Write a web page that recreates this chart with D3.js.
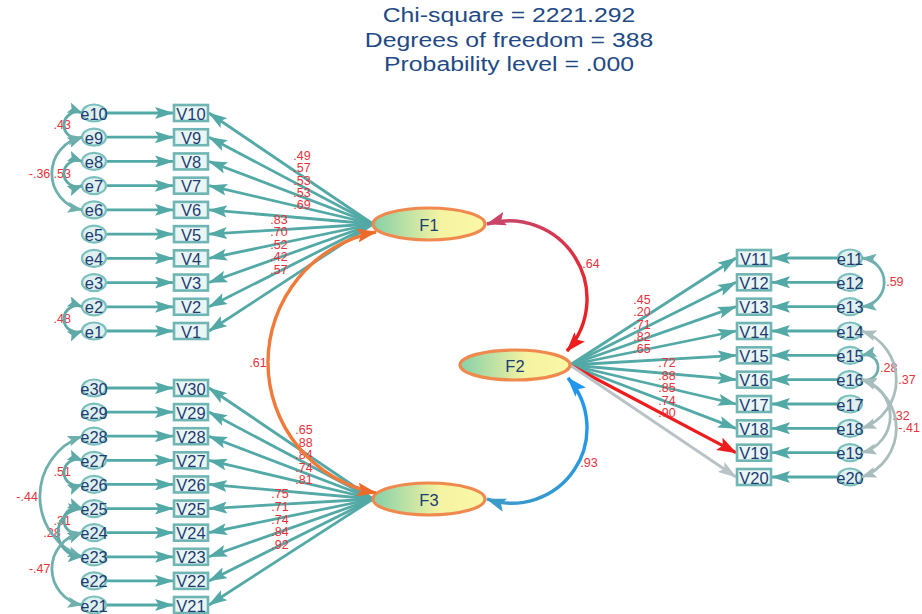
<!DOCTYPE html>
<html><head><meta charset="utf-8">
<script src="https://cdn.jsdelivr.net/npm/d3@7"></script>
<style>body{margin:0;background:#fff}svg{display:block}</style>
</head><body><svg id="c" width="922" height="614"></svg>
<script>
// ---------------- data ----------------
const titleLines = ["Chi-square = 2221.292", "Degrees of freedom = 388", "Probability level = .000"];
const factorNames = ["F1", "F2", "F3"];

const f1Vars = ["V10","V9","V8","V7","V6","V5","V4","V3","V2","V1"];
const f1Errs = ["e10","e9","e8","e7","e6","e5","e4","e3","e2","e1"];
const f1Loadings = [".49",".57",".53",".53",".69",".83",".70",".52",".42",".57"];

const f2Vars = ["V11","V12","V13","V14","V15","V16","V17","V18","V19","V20"];
const f2Errs = ["e11","e12","e13","e14","e15","e16","e17","e18","e19","e20"];
const f2Loadings = [".45",".20",".71",".82",".65",".72",".88",".85",".74",".90"];

const f3Vars = ["V30","V29","V28","V27","V26","V25","V24","V23","V22","V21"];
const f3Errs = ["e30","e29","e28","e27","e26","e25","e24","e23","e22","e21"];
const f3Loadings = [".65",".88",".84",".74",".81",".75",".71",".74",".84",".92"];

const factorCovFrom = ["F1", "F2", "F1"];
const factorCovTo   = ["F2", "F3", "F3"];
const factorCovVals = [".64", ".93", ".61"];

const errCovFrom = ["e10","e9","e8","e2","e28","e27","e25","e25","e24","e11","e14","e15","e16","e16"];
const errCovTo   = ["e9","e6","e7","e1","e23","e26","e24","e23","e21","e13","e18","e16","e19","e20"];
const errCovVals = [".43","-.36",".53",".48","-.44",".51",".31",".28","-.47",".59",".37",".28",".32","-.41"];

// ---------------- layout ----------------
const teal = "#52a9a6", navy = "#1d3d72", red = "#e8323c";
const FONT = "Liberation Sans, Arial, sans-serif";
const svg = d3.select("#c");
const defs = svg.append("defs");

const yF1 = d3.scalePoint().domain(f1Vars).range([113, 331]);
const yF3 = d3.scalePoint().domain(f3Vars).range([388, 605]);
const yF2 = d3.scalePoint().domain(f2Vars).range([258, 477]);

const fac = {
  F1: {cx: 429, cy: 224, rx: 56, ry: 16},
  F2: {cx: 515, cy: 365, rx: 55, ry: 15},
  F3: {cx: 429, cy: 499, rx: 56, ry: 16}
};
const leftBoxX = 174, rightBoxX = 737, boxW = 34, boxH = 16;
const leftErrX = 94, rightErrX = 850, errRx = 12, errRy = 8.5;

// markers
const markerIds = {};
function marker(color, len = 14, wid = 10) {
  const key = color + "_" + len + "_" + wid;
  if (!markerIds[key]) {
    const id = "m" + Object.keys(markerIds).length;
    markerIds[key] = id;
    defs.append("marker").attr("id", id)
      .attr("viewBox", "0 0 10 10").attr("refX", 9.5).attr("refY", 5)
      .attr("markerUnits", "userSpaceOnUse")
      .attr("markerWidth", len).attr("markerHeight", wid)
      .attr("preserveAspectRatio", "none")
      .attr("orient", "auto-start-reverse")
      .append("path").attr("d", "M0,0 L10,5 L0,10 L2,5 Z").attr("fill", color);
  }
  return "url(#" + markerIds[key] + ")";
}

function arcThrough(a, m, b) {
  const [ax, ay] = a, [bx, by] = m, [cx, cy] = b;
  const d = 2 * (ax * (by - cy) + bx * (cy - ay) + cx * (ay - by));
  const ux = ((ax*ax + ay*ay) * (by - cy) + (bx*bx + by*by) * (cy - ay) + (cx*cx + cy*cy) * (ay - by)) / d;
  const uy = ((ax*ax + ay*ay) * (cx - bx) + (bx*bx + by*by) * (ax - cx) + (cx*cx + cy*cy) * (bx - ax)) / d;
  const r = Math.hypot(ax - ux, ay - uy);
  const cross = (m[0] - a[0]) * (b[1] - m[1]) - (m[1] - a[1]) * (b[0] - m[0]);
  const sweep = cross > 0 ? 1 : 0;
  const side = p => (b[0] - a[0]) * (p[1] - a[1]) - (b[1] - a[1]) * (p[0] - a[0]);
  const large = side(m) * side([ux, uy]) > 0 ? 1 : 0;
  return `M${a[0]},${a[1]} A${r},${r} 0 ${large} ${sweep} ${b[0]},${b[1]}`;
}

// groups of indicators
const groups = [
  {f: "F1", vars: f1Vars, errs: f1Errs, loads: f1Loadings, y: yF1, side: "left",
   lab: [{x: 302, y: 156, dy: 12.3}, {x: 279, y: 220, dy: 12.4}]},
  {f: "F3", vars: f3Vars, errs: f3Errs, loads: f3Loadings, y: yF3, side: "left",
   lab: [{x: 304, y: 430, dy: 12.5}, {x: 280, y: 494, dy: 12.8}]},
  {f: "F2", vars: f2Vars, errs: f2Errs, loads: f2Loadings, y: yF2, side: "right",
   lab: [{x: 642, y: 300, dy: 12.3}, {x: 667, y: 363, dy: 12.5}]}
];

const errY = {};
groups.forEach(g => g.errs.forEach((e, i) => { errY[e] = {y: g.y(g.vars[i]), side: g.side}; }));

const gLines = svg.append("g");
const gLabels = svg.append("g");
const gArcs = svg.append("g");
const gNodes = svg.append("g");

function label(x, y, t, anchor) {
  gLabels.append("text").attr("x", x).attr("y", y)
    .attr("text-anchor", anchor).attr("dominant-baseline", "central")
    .attr("fill", red).attr("font-size", 12.5).attr("font-family", FONT)
    .text(t);
}

// loading arrows & error arrows
groups.forEach(g => {
  const F = fac[g.f];
  const ox = g.side === "left" ? F.cx - F.rx : F.cx + F.rx;
  g.vars.forEach((v, i) => {
    const y = g.y(v);
    const tx = g.side === "left" ? leftBoxX + boxW + 1 : rightBoxX - 1;
    let col = teal, w = 2.8, mk = marker(teal, 19, 12);
    if (v === "V19") { col = "#ee1c1c"; w = 3.2; mk = marker("#ee1c1c", 20, 14); }
    if (v === "V20") { col = "#b9c2c6"; w = 2.8; mk = marker("#b9c2c6", 19, 12); }
    gLines.append("line").attr("x1", ox).attr("y1", F.cy).attr("x2", tx).attr("y2", y)
      .attr("stroke", col).attr("stroke-width", w).attr("marker-end", mk);
    // error -> variable
    const ex1 = g.side === "left" ? leftErrX + errRx + 1 : rightErrX - errRx - 1;
    const ex2 = g.side === "left" ? leftBoxX - 1 : rightBoxX + boxW + 1;
    gLines.append("line").attr("x1", ex1).attr("y1", y).attr("x2", ex2).attr("y2", y)
      .attr("stroke", teal).attr("stroke-width", 2.8).attr("marker-end", marker(teal, 19, 12));
    // loading label
    const L = g.lab[i < 5 ? 0 : 1];
    const k = i < 5 ? i : i - 5;
    label(L.x, L.y + k * L.dy, g.loads[i], "middle");
  });
});

// error covariance arcs
errCovFrom.forEach((a, i) => {
  const b = errCovTo[i];
  const ya = errY[a].y, yb = errY[b].y, side = errY[a].side;
  const c = Math.abs(yb - ya);
  const my = (ya + yb) / 2;
  if (side === "left") {
    const x0 = leftErrX - errRx;
    const s = 12 + c / 4;
    const col = c > 60 ? "#6fb0ae" : "#5fa9a7";
    gArcs.append("path").attr("d", arcThrough([x0, ya], [x0 - s, my], [x0, yb]))
      .attr("fill", "none").attr("stroke", col).attr("stroke-width", 2.8)
      .attr("marker-start", marker(col, 15, 11)).attr("marker-end", marker(col, 15, 11));
    const off = Math.max(-2, Math.min(7, 7 - (s - 18) * 0.7));
    label(x0 - s + off, my, errCovVals[i], "end");
  } else {
    const x0 = rightErrX + errRx;
    const s = 10 + c / 4;
    const col = c > 60 ? "#a9bdbd" : "#6fb0ae";
    gArcs.append("path").attr("d", arcThrough([x0, ya], [x0 + s, my], [x0, yb]))
      .attr("fill", "none").attr("stroke", col).attr("stroke-width", 2.8)
      .attr("marker-start", marker(col, 15, 11)).attr("marker-end", marker(col, 15, 11));
    label(x0 + s + 2, my, errCovVals[i], "start");
  }
});

// factor covariance arcs
const facArc = {
  "F1-F2": {a: [fac.F1.cx + fac.F1.rx + 2, fac.F1.cy], m: [587, 300], b: [fac.F2.cx + 52, fac.F2.cy - 14],
            c1: "#c9466a", c2: "#ee1c1c", lx: 591, ly: 264},
  "F2-F3": {a: [fac.F2.cx + 53, fac.F2.cy + 13], m: [587, 428], b: [fac.F3.cx + fac.F3.rx + 2, fac.F3.cy],
            c1: "#2196f0", c2: "#3a9ac8", lx: 589, ly: 463},
  "F1-F3": {a: [fac.F1.cx - 53, fac.F1.cy + 8], m: [268, 362], b: [fac.F3.cx - 53, fac.F3.cy - 6],
            c1: "#f07a3a", c2: "#f07a3a", lx: 258, ly: 363}
};
factorCovFrom.forEach((f, i) => {
  const A = facArc[f + "-" + factorCovTo[i]];
  const gid = "g" + i;
  const lg = defs.append("linearGradient").attr("id", gid).attr("gradientUnits", "userSpaceOnUse")
    .attr("x1", A.a[0]).attr("y1", A.a[1]).attr("x2", A.b[0]).attr("y2", A.b[1]);
  lg.append("stop").attr("offset", "0%").attr("stop-color", A.c1);
  lg.append("stop").attr("offset", "100%").attr("stop-color", A.c2);
  gArcs.append("path").attr("d", arcThrough(A.a, A.m, A.b))
    .attr("fill", "none").attr("stroke", `url(#${gid})`).attr("stroke-width", 3.4)
    .attr("marker-start", marker(A.c1 === "#f07a3a" ? "#ec6a2a" : A.c1, 20, 14))
    .attr("marker-end", marker(A.c2 === "#f07a3a" ? "#ec6a2a" : A.c2, 20, 14));
  label(A.lx, A.ly, factorCovVals[i], "middle");
});
gArcs.raise();

// nodes: variables and errors
groups.forEach(g => {
  g.vars.forEach((v, i) => {
    const y = g.y(v);
    const bx = g.side === "left" ? leftBoxX : rightBoxX;
    gNodes.append("rect").attr("x", bx).attr("y", y - boxH / 2).attr("width", boxW).attr("height", boxH)
      .attr("fill", "#eaf5f5").attr("stroke", "#6fb5b3").attr("stroke-width", 2.6);
    gNodes.append("text").attr("x", bx + boxW / 2).attr("y", y + 0.5)
      .attr("text-anchor", "middle").attr("dominant-baseline", "central")
      .attr("fill", navy).attr("font-size", 16.5).attr("font-family", FONT)
      .text(v);
    const ex = g.side === "left" ? leftErrX : rightErrX;
    gNodes.append("ellipse").attr("cx", ex).attr("cy", y).attr("rx", errRx).attr("ry", errRy)
      .attr("fill", "#dff0f0").attr("stroke", "#7cc0be").attr("stroke-width", 2.2);
    gNodes.append("text").attr("x", ex).attr("y", y + 0.5)
      .attr("text-anchor", "middle").attr("dominant-baseline", "central")
      .attr("fill", navy).attr("font-size", 16.5).attr("font-family", FONT)
      .text(g.errs[i]);
  });
});

// factors
const fg = defs.append("linearGradient").attr("id", "fgrad").attr("x1", "0%").attr("x2", "100%");
fg.append("stop").attr("offset", "0%").attr("stop-color", "#86d0a8");
fg.append("stop").attr("offset", "60%").attr("stop-color", "#f4f3a2");
fg.append("stop").attr("offset", "100%").attr("stop-color", "#fbf8a6");
factorNames.forEach(f => {
  const F = fac[f];
  gNodes.append("ellipse").attr("cx", F.cx).attr("cy", F.cy).attr("rx", F.rx).attr("ry", F.ry)
    .attr("fill", "url(#fgrad)").attr("stroke", "#f0894e").attr("stroke-width", 3.2);
  gNodes.append("text").attr("x", F.cx).attr("y", F.cy + 0.5)
    .attr("text-anchor", "middle").attr("dominant-baseline", "central")
    .attr("fill", navy).attr("font-size", 16.5).attr("font-family", FONT)
    .text(f);
});

// title (reference text is horizontally wide)
titleLines.forEach((t, i) => {
  svg.append("text").attr("transform", `translate(509,${22 + i * 24.5}) scale(1.18,1)`)
    .attr("text-anchor", "middle")
    .attr("fill", "#1f4a86").attr("font-size", 21).attr("font-family", FONT)
    .text(t);
});
</script></body></html>
